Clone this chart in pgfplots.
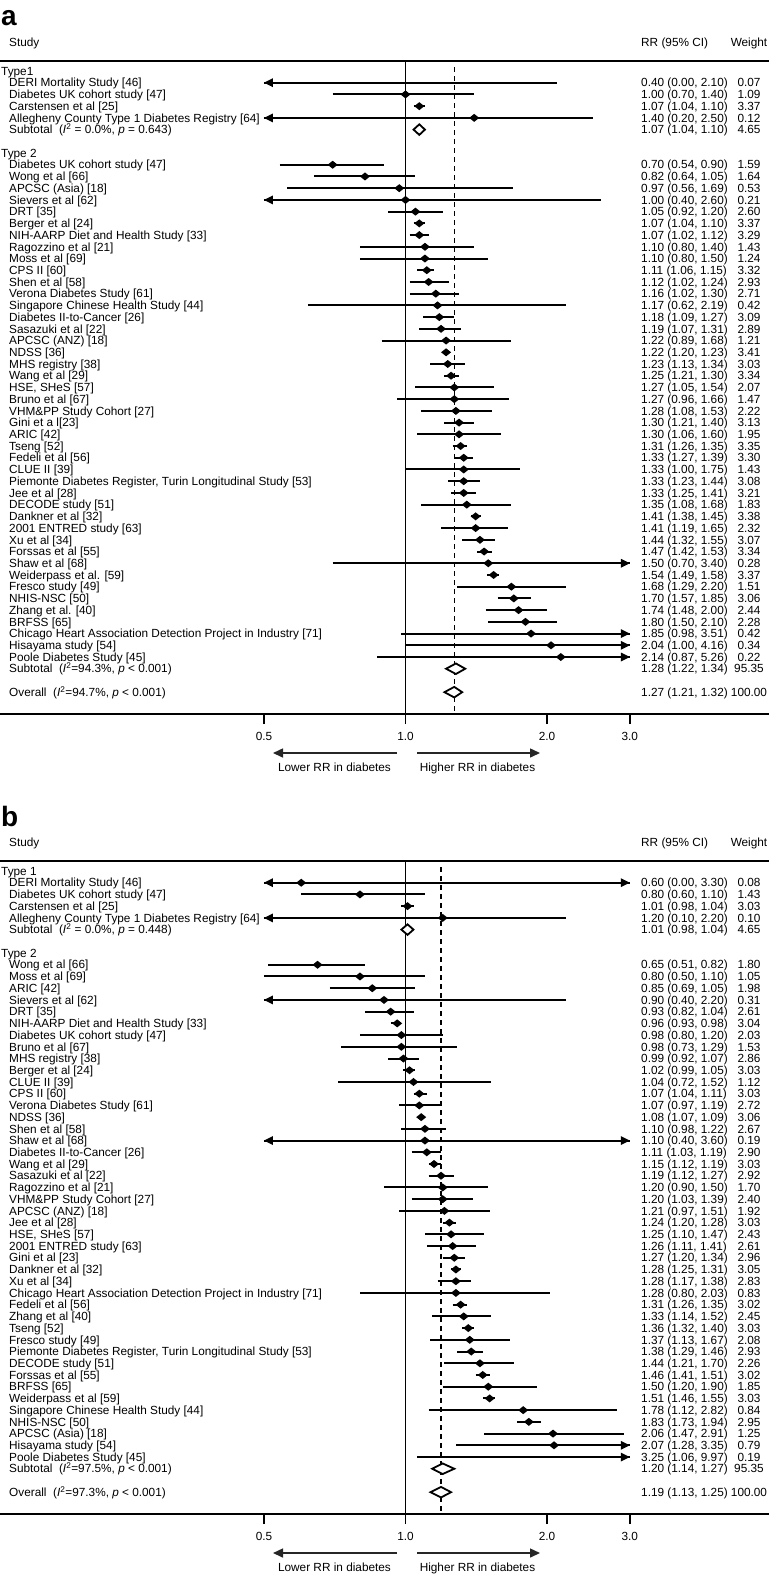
\documentclass[border=0pt]{standalone}
\usepackage{fontspec}
\setmainfont{Liberation Sans}
\usepackage{pgfplots}
\pgfplotsset{compat=1.18}
\usetikzlibrary{arrows.meta}

\newcommand\ftxt{\fontsize{11.8}{13}\selectfont}
\newcommand\oy{0}
\newcommand\rowy[1]{-\oy-75.2-11.72*(#1)}
\newcommand\grp[2]{\node[anchor=base west] at (1,{\rowy{#1}}) {#2};}
\newcommand\srow[4]{%
  \node[anchor=base west] at (9,{\rowy{#1}}) {#2};
  \node[anchor=base west] at (641,{\rowy{#1}}) {#3};
  \node[anchor=base] at (749,{\rowy{#1}}) {#4};}
\newcommand\panelname{a}
\newcommand\heads{%
  \node[anchor=base west, font=\fontsize{28}{28}\selectfont\bfseries] at (1,{-\oy-26}) {\panelname};
  \node[anchor=base west] at (9,{-\oy-46.2}) {Study};
  \node[anchor=base west] at (641,{-\oy-46.2}) {RR (95\% CI)};
  \node[anchor=base] at (749,{-\oy-46.2}) {Weight};
  \draw[line width=2pt] (0,{-\oy-61}) -- (769,{-\oy-61});
  \draw[black!85, line width=1.5pt, -{Triangle[length=10pt,width=9pt]}] (397,{-\oy-753}) -- (273,{-\oy-753});
  \draw[black!85, line width=1.5pt, -{Triangle[length=10pt,width=9pt]}] (417,{-\oy-753}) -- (540,{-\oy-753});
  \node[anchor=base] at (334.5,{-\oy-771.2}) {Lower RR in diabetes};
  \node[anchor=base] at (477.5,{-\oy-771.2}) {Higher RR in diabetes};}

\pgfdeclareplotmark{fdia}{%
  \pgfpathmoveto{\pgfqpoint{-5pt}{0pt}}\pgfpathlineto{\pgfqpoint{0pt}{4pt}}%
  \pgfpathlineto{\pgfqpoint{5pt}{0pt}}\pgfpathlineto{\pgfqpoint{0pt}{-4pt}}%
  \pgfpathclose\pgfusepathqfill}
\pgfdeclareplotmark{larr}{%
  \pgfpathmoveto{\pgfqpoint{0pt}{0pt}}\pgfpathlineto{\pgfqpoint{9pt}{4.5pt}}%
  \pgfpathlineto{\pgfqpoint{9pt}{-4.5pt}}\pgfpathclose\pgfusepathqfill}
\pgfdeclareplotmark{rarr}{%
  \pgfpathmoveto{\pgfqpoint{0pt}{0pt}}\pgfpathlineto{\pgfqpoint{-9pt}{4.5pt}}%
  \pgfpathlineto{\pgfqpoint{-9pt}{-4.5pt}}\pgfpathclose\pgfusepathqfill}

\begin{document}
\begin{tikzpicture}[x=1pt,y=1pt, every node/.style={inner sep=0pt, font=\ftxt}]
\path[use as bounding box] (0,0) rectangle (769,-1576);

% ======================= PANEL A =======================
\renewcommand\oy{0}
\renewcommand\panelname{a}
\heads
\begin{axis}[anchor=south west, at={(0pt,-714pt)},
    width=769pt, height=653pt, scale only axis,
    xmode=log, log basis x=2, xmin=0.13720, xmax=5.9333,
    ymin=-54.863, ymax=0.8532,
    axis x line*=bottom, axis y line=none,
    xtick={0.5,1,2,3}, xticklabels={0.5,1.0,2.0,3.0}, minor xtick={},
    tick align=outside, major tick length=10pt,
    tick style={black, line width=1.6pt},
    axis line style={black, line width=1.6pt},
    xticklabel style={font=\ftxt, anchor=north, yshift=-8pt},
    clip=false, unbounded coords=jump]
\addplot[black, line width=1.3pt] coordinates {(1,0.8532) (1,-54.863)};
\addplot[black, line width=1.3pt, dash pattern=on 5pt off 4pt] coordinates {(1.27,0.34) (1.27,-54.863)};
\addplot[black, line width=2pt] table {
x y
0.5 -1
2.10 -1
nan nan
0.70 -2
1.40 -2
nan nan
1.04 -3
1.10 -3
nan nan
0.5 -4
2.50 -4
nan nan
0.54 -8
0.90 -8
nan nan
0.64 -9
1.05 -9
nan nan
0.56 -10
1.69 -10
nan nan
0.5 -11
2.60 -11
nan nan
0.92 -12
1.20 -12
nan nan
1.04 -13
1.10 -13
nan nan
1.02 -14
1.12 -14
nan nan
0.80 -15
1.40 -15
nan nan
0.80 -16
1.50 -16
nan nan
1.06 -17
1.15 -17
nan nan
1.02 -18
1.24 -18
nan nan
1.02 -19
1.30 -19
nan nan
0.62 -20
2.19 -20
nan nan
1.09 -21
1.27 -21
nan nan
1.07 -22
1.31 -22
nan nan
0.89 -23
1.68 -23
nan nan
1.20 -24
1.23 -24
nan nan
1.13 -25
1.34 -25
nan nan
1.21 -26
1.30 -26
nan nan
1.05 -27
1.54 -27
nan nan
0.96 -28
1.66 -28
nan nan
1.08 -29
1.53 -29
nan nan
1.21 -30
1.40 -30
nan nan
1.06 -31
1.60 -31
nan nan
1.26 -32
1.35 -32
nan nan
1.27 -33
1.39 -33
nan nan
1.00 -34
1.75 -34
nan nan
1.23 -35
1.44 -35
nan nan
1.25 -36
1.41 -36
nan nan
1.08 -37
1.68 -37
nan nan
1.38 -38
1.45 -38
nan nan
1.19 -39
1.65 -39
nan nan
1.32 -40
1.55 -40
nan nan
1.42 -41
1.53 -41
nan nan
0.70 -42
3.0 -42
nan nan
1.49 -43
1.58 -43
nan nan
1.29 -44
2.20 -44
nan nan
1.57 -45
1.85 -45
nan nan
1.48 -46
2.00 -46
nan nan
1.50 -47
2.10 -47
nan nan
0.98 -48
3.0 -48
nan nan
1.00 -49
3.0 -49
nan nan
0.87 -50
3.0 -50
};
\addplot[black, only marks, mark=fdia] table {
x y
1.00 -2
1.07 -3
1.40 -4
0.70 -8
0.82 -9
0.97 -10
1.00 -11
1.05 -12
1.07 -13
1.07 -14
1.10 -15
1.10 -16
1.11 -17
1.12 -18
1.16 -19
1.17 -20
1.18 -21
1.19 -22
1.22 -23
1.22 -24
1.23 -25
1.25 -26
1.27 -27
1.27 -28
1.28 -29
1.30 -30
1.30 -31
1.31 -32
1.33 -33
1.33 -34
1.33 -35
1.33 -36
1.35 -37
1.41 -38
1.41 -39
1.44 -40
1.47 -41
1.50 -42
1.54 -43
1.68 -44
1.70 -45
1.74 -46
1.80 -47
1.85 -48
2.04 -49
2.14 -50
};
\addplot[black, only marks, mark=larr] coordinates {(0.5,-1) (0.5,-4) (0.5,-11)};
\addplot[black, only marks, mark=rarr] coordinates {(3,-42) (3,-48) (3,-49) (3,-50)};
\addplot[draw=black, fill=white, line width=1.8pt] coordinates {(1.04,-5) (1.07,-4.55) (1.10,-5) (1.07,-5.45)} --cycle;
\addplot[draw=black, fill=white, line width=1.8pt] coordinates {(1.22,-51) (1.28,-50.55) (1.34,-51) (1.28,-51.45)} --cycle;
\addplot[draw=black, fill=white, line width=1.8pt] coordinates {(1.21,-53) (1.27,-52.55) (1.32,-53) (1.27,-53.45)} --cycle;
\end{axis}

\grp{0}{Type1}
\srow{1}{DERI Mortality Study [46]}{0.40 (0.00, 2.10)}{0.07}
\srow{2}{Diabetes UK cohort study [47]}{1.00 (0.70, 1.40)}{1.09}
\srow{3}{Carstensen et al [25]}{1.07 (1.04, 1.10)}{3.37}
\srow{4}{Allegheny County Type 1 Diabetes Registry [64]}{1.40 (0.20, 2.50)}{0.12}
\srow{5}{Subtotal\ \ (\textit{I}\textsuperscript{2} = 0.0\%, \textit{p} = 0.643)}{1.07 (1.04, 1.10)}{4.65}
\grp{7}{Type 2}
\srow{8}{Diabetes UK cohort study [47]}{0.70 (0.54, 0.90)}{1.59}
\srow{9}{Wong et al [66]}{0.82 (0.64, 1.05)}{1.64}
\srow{10}{APCSC (Asia) [18]}{0.97 (0.56, 1.69)}{0.53}
\srow{11}{Sievers et al [62]}{1.00 (0.40, 2.60)}{0.21}
\srow{12}{DRT [35]}{1.05 (0.92, 1.20)}{2.60}
\srow{13}{Berger et al [24]}{1.07 (1.04, 1.10)}{3.37}
\srow{14}{NIH-AARP Diet and Health Study [33]}{1.07 (1.02, 1.12)}{3.29}
\srow{15}{Ragozzino et al [21]}{1.10 (0.80, 1.40)}{1.43}
\srow{16}{Moss et al [69]}{1.10 (0.80, 1.50)}{1.24}
\srow{17}{CPS II [60]}{1.11 (1.06, 1.15)}{3.32}
\srow{18}{Shen et al [58]}{1.12 (1.02, 1.24)}{2.93}
\srow{19}{Verona Diabetes Study [61]}{1.16 (1.02, 1.30)}{2.71}
\srow{20}{Singapore Chinese Health Study [44]}{1.17 (0.62, 2.19)}{0.42}
\srow{21}{Diabetes II-to-Cancer [26]}{1.18 (1.09, 1.27)}{3.09}
\srow{22}{Sasazuki et al [22]}{1.19 (1.07, 1.31)}{2.89}
\srow{23}{APCSC (ANZ) [18]}{1.22 (0.89, 1.68)}{1.21}
\srow{24}{NDSS [36]}{1.22 (1.20, 1.23)}{3.41}
\srow{25}{MHS registry [38]}{1.23 (1.13, 1.34)}{3.03}
\srow{26}{Wang et al [29]}{1.25 (1.21, 1.30)}{3.34}
\srow{27}{HSE, SHeS [57]}{1.27 (1.05, 1.54)}{2.07}
\srow{28}{Bruno et al [67]}{1.27 (0.96, 1.66)}{1.47}
\srow{29}{VHM\&PP Study Cohort [27]}{1.28 (1.08, 1.53)}{2.22}
\srow{30}{Gini et a l[23]}{1.30 (1.21, 1.40)}{3.13}
\srow{31}{ARIC [42]}{1.30 (1.06, 1.60)}{1.95}
\srow{32}{Tseng [52]}{1.31 (1.26, 1.35)}{3.35}
\srow{33}{Fedeli et al [56]}{1.33 (1.27, 1.39)}{3.30}
\srow{34}{CLUE II [39]}{1.33 (1.00, 1.75)}{1.43}
\srow{35}{Piemonte Diabetes Register, Turin Longitudinal Study [53]}{1.33 (1.23, 1.44)}{3.08}
\srow{36}{Jee et al [28]}{1.33 (1.25, 1.41)}{3.21}
\srow{37}{DECODE study [51]}{1.35 (1.08, 1.68)}{1.83}
\srow{38}{Dankner et al [32]}{1.41 (1.38, 1.45)}{3.38}
\srow{39}{2001 ENTRED study [63]}{1.41 (1.19, 1.65)}{2.32}
\srow{40}{Xu et al [34]}{1.44 (1.32, 1.55)}{3.07}
\srow{41}{Forssas et al [55]}{1.47 (1.42, 1.53)}{3.34}
\srow{42}{Shaw et al [68]}{1.50 (0.70, 3.40)}{0.28}
\srow{43}{Weiderpass et al. [59]}{1.54 (1.49, 1.58)}{3.37}
\srow{44}{Fresco study [49]}{1.68 (1.29, 2.20)}{1.51}
\srow{45}{NHIS-NSC [50]}{1.70 (1.57, 1.85)}{3.06}
\srow{46}{Zhang et al. [40]}{1.74 (1.48, 2.00)}{2.44}
\srow{47}{BRFSS [65]}{1.80 (1.50, 2.10)}{2.28}
\srow{48}{Chicago Heart Association Detection Project in Industry [71]}{1.85 (0.98, 3.51)}{0.42}
\srow{49}{Hisayama study [54]}{2.04 (1.00, 4.16)}{0.34}
\srow{50}{Poole Diabetes Study [45]}{2.14 (0.87, 5.26)}{0.22}
\srow{51}{Subtotal\ \ (\textit{I}\textsuperscript{2}=94.3\%, \textit{p} < 0.001)}{1.28 (1.22, 1.34)}{95.35}
\srow{53}{Overall\ \ (\textit{I}\textsuperscript{2}=94.7\%, \textit{p} < 0.001)}{1.27 (1.21, 1.32)}{100.00}

% ======================= PANEL B =======================
\renewcommand\oy{800}
\renewcommand\panelname{b}
\heads
\begin{axis}[anchor=south west, at={(0pt,-1514pt)},
    width=769pt, height=653pt, scale only axis,
    xmode=log, log basis x=2, xmin=0.13720, xmax=5.9333,
    ymin=-54.863, ymax=0.8532,
    axis x line*=bottom, axis y line=none,
    xtick={0.5,1,2,3}, xticklabels={0.5,1.0,2.0,3.0}, minor xtick={},
    tick align=outside, major tick length=10pt,
    tick style={black, line width=1.6pt},
    axis line style={black, line width=1.6pt},
    xticklabel style={font=\ftxt, anchor=north, yshift=-8pt},
    clip=false, unbounded coords=jump]
\addplot[black, line width=1.3pt] coordinates {(1,0.8532) (1,-54.863)};
\addplot[black, line width=1.3pt, dash pattern=on 5pt off 4pt] coordinates {(1.19,0.34) (1.19,-54.863)};
\addplot[black, line width=2pt] table {
x y
0.5 -1
3.0 -1
nan nan
0.60 -2
1.10 -2
nan nan
0.98 -3
1.04 -3
nan nan
0.5 -4
2.20 -4
nan nan
0.51 -8
0.82 -8
nan nan
0.50 -9
1.10 -9
nan nan
0.69 -10
1.05 -10
nan nan
0.5 -11
2.20 -11
nan nan
0.82 -12
1.04 -12
nan nan
0.93 -13
0.98 -13
nan nan
0.80 -14
1.20 -14
nan nan
0.73 -15
1.29 -15
nan nan
0.92 -16
1.07 -16
nan nan
0.99 -17
1.05 -17
nan nan
0.72 -18
1.52 -18
nan nan
1.04 -19
1.11 -19
nan nan
0.97 -20
1.19 -20
nan nan
1.07 -21
1.09 -21
nan nan
0.98 -22
1.22 -22
nan nan
0.5 -23
3.0 -23
nan nan
1.03 -24
1.19 -24
nan nan
1.12 -25
1.19 -25
nan nan
1.12 -26
1.27 -26
nan nan
0.90 -27
1.50 -27
nan nan
1.03 -28
1.39 -28
nan nan
0.97 -29
1.51 -29
nan nan
1.20 -30
1.28 -30
nan nan
1.10 -31
1.47 -31
nan nan
1.11 -32
1.41 -32
nan nan
1.20 -33
1.34 -33
nan nan
1.25 -34
1.31 -34
nan nan
1.17 -35
1.38 -35
nan nan
0.80 -36
2.03 -36
nan nan
1.26 -37
1.35 -37
nan nan
1.14 -38
1.52 -38
nan nan
1.32 -39
1.40 -39
nan nan
1.13 -40
1.67 -40
nan nan
1.29 -41
1.46 -41
nan nan
1.21 -42
1.70 -42
nan nan
1.41 -43
1.51 -43
nan nan
1.20 -44
1.90 -44
nan nan
1.46 -45
1.55 -45
nan nan
1.12 -46
2.82 -46
nan nan
1.73 -47
1.94 -47
nan nan
1.47 -48
2.91 -48
nan nan
1.28 -49
3.0 -49
nan nan
1.06 -50
3.0 -50
};
\addplot[black, only marks, mark=fdia] table {
x y
0.60 -1
0.80 -2
1.01 -3
1.20 -4
0.65 -8
0.80 -9
0.85 -10
0.90 -11
0.93 -12
0.96 -13
0.98 -14
0.98 -15
0.99 -16
1.02 -17
1.04 -18
1.07 -19
1.07 -20
1.08 -21
1.10 -22
1.10 -23
1.11 -24
1.15 -25
1.19 -26
1.20 -27
1.20 -28
1.21 -29
1.24 -30
1.25 -31
1.26 -32
1.27 -33
1.28 -34
1.28 -35
1.28 -36
1.31 -37
1.33 -38
1.36 -39
1.37 -40
1.38 -41
1.44 -42
1.46 -43
1.50 -44
1.51 -45
1.78 -46
1.83 -47
2.06 -48
2.07 -49
};
\addplot[black, only marks, mark=larr] coordinates {(0.5,-1) (0.5,-4) (0.5,-11) (0.5,-23)};
\addplot[black, only marks, mark=rarr] coordinates {(3,-1) (3,-23) (3,-49) (3,-50)};
\addplot[draw=black, fill=white, line width=1.8pt] coordinates {(0.98,-5) (1.01,-4.55) (1.04,-5) (1.01,-5.45)} --cycle;
\addplot[draw=black, fill=white, line width=1.8pt] coordinates {(1.14,-51) (1.20,-50.55) (1.27,-51) (1.20,-51.45)} --cycle;
\addplot[draw=black, fill=white, line width=1.8pt] coordinates {(1.13,-53) (1.19,-52.55) (1.25,-53) (1.19,-53.45)} --cycle;
\end{axis}

\grp{0}{Type 1}
\srow{1}{DERI Mortality Study [46]}{0.60 (0.00, 3.30)}{0.08}
\srow{2}{Diabetes UK cohort study [47]}{0.80 (0.60, 1.10)}{1.43}
\srow{3}{Carstensen et al [25]}{1.01 (0.98, 1.04)}{3.03}
\srow{4}{Allegheny County Type 1 Diabetes Registry [64]}{1.20 (0.10, 2.20)}{0.10}
\srow{5}{Subtotal\ \ (\textit{I}\textsuperscript{2} = 0.0\%, \textit{p} = 0.448)}{1.01 (0.98, 1.04)}{4.65}
\grp{7}{Type 2}
\srow{8}{Wong et al [66]}{0.65 (0.51, 0.82)}{1.80}
\srow{9}{Moss et al [69]}{0.80 (0.50, 1.10)}{1.05}
\srow{10}{ARIC [42]}{0.85 (0.69, 1.05)}{1.98}
\srow{11}{Sievers et al [62]}{0.90 (0.40, 2.20)}{0.31}
\srow{12}{DRT [35]}{0.93 (0.82, 1.04)}{2.61}
\srow{13}{NIH-AARP Diet and Health Study [33]}{0.96 (0.93, 0.98)}{3.04}
\srow{14}{Diabetes UK cohort study [47]}{0.98 (0.80, 1.20)}{2.03}
\srow{15}{Bruno et al [67]}{0.98 (0.73, 1.29)}{1.53}
\srow{16}{MHS registry [38]}{0.99 (0.92, 1.07)}{2.86}
\srow{17}{Berger et al [24]}{1.02 (0.99, 1.05)}{3.03}
\srow{18}{CLUE II [39]}{1.04 (0.72, 1.52)}{1.12}
\srow{19}{CPS II [60]}{1.07 (1.04, 1.11)}{3.03}
\srow{20}{Verona Diabetes Study [61]}{1.07 (0.97, 1.19)}{2.72}
\srow{21}{NDSS [36]}{1.08 (1.07, 1.09)}{3.06}
\srow{22}{Shen et al [58]}{1.10 (0.98, 1.22)}{2.67}
\srow{23}{Shaw et al [68]}{1.10 (0.40, 3.60)}{0.19}
\srow{24}{Diabetes II-to-Cancer [26]}{1.11 (1.03, 1.19)}{2.90}
\srow{25}{Wang et al [29]}{1.15 (1.12, 1.19)}{3.03}
\srow{26}{Sasazuki et al [22]}{1.19 (1.12, 1.27)}{2.92}
\srow{27}{Ragozzino et al [21]}{1.20 (0.90, 1.50)}{1.70}
\srow{28}{VHM\&PP Study Cohort [27]}{1.20 (1.03, 1.39)}{2.40}
\srow{29}{APCSC (ANZ) [18]}{1.21 (0.97, 1.51)}{1.92}
\srow{30}{Jee et al [28]}{1.24 (1.20, 1.28)}{3.03}
\srow{31}{HSE, SHeS [57]}{1.25 (1.10, 1.47)}{2.43}
\srow{32}{2001 ENTRED study [63]}{1.26 (1.11, 1.41)}{2.61}
\srow{33}{Gini et al [23]}{1.27 (1.20, 1.34)}{2.96}
\srow{34}{Dankner et al [32]}{1.28 (1.25, 1.31)}{3.05}
\srow{35}{Xu et al [34]}{1.28 (1.17, 1.38)}{2.83}
\srow{36}{Chicago Heart Association Detection Project in Industry [71]}{1.28 (0.80, 2.03)}{0.83}
\srow{37}{Fedeli et al [56]}{1.31 (1.26, 1.35)}{3.02}
\srow{38}{Zhang et al [40]}{1.33 (1.14, 1.52)}{2.45}
\srow{39}{Tseng [52]}{1.36 (1.32, 1.40)}{3.03}
\srow{40}{Fresco study [49]}{1.37 (1.13, 1.67)}{2.08}
\srow{41}{Piemonte Diabetes Register, Turin Longitudinal Study [53]}{1.38 (1.29, 1.46)}{2.93}
\srow{42}{DECODE study [51]}{1.44 (1.21, 1.70)}{2.26}
\srow{43}{Forssas et al [55]}{1.46 (1.41, 1.51)}{3.02}
\srow{44}{BRFSS [65]}{1.50 (1.20, 1.90)}{1.85}
\srow{45}{Weiderpass et al [59]}{1.51 (1.46, 1.55)}{3.03}
\srow{46}{Singapore Chinese Health Study [44]}{1.78 (1.12, 2.82)}{0.84}
\srow{47}{NHIS-NSC [50]}{1.83 (1.73, 1.94)}{2.95}
\srow{48}{APCSC (Asia) [18]}{2.06 (1.47, 2.91)}{1.25}
\srow{49}{Hisayama study [54]}{2.07 (1.28, 3.35)}{0.79}
\srow{50}{Poole Diabetes Study [45]}{3.25 (1.06, 9.97)}{0.19}
\srow{51}{Subtotal\ \ (\textit{I}\textsuperscript{2}=97.5\%, \textit{p} < 0.001)}{1.20 (1.14, 1.27)}{95.35}
\srow{53}{Overall\ \ (\textit{I}\textsuperscript{2}=97.3\%, \textit{p} < 0.001)}{1.19 (1.13, 1.25)}{100.00}
\end{tikzpicture}
\end{document}
